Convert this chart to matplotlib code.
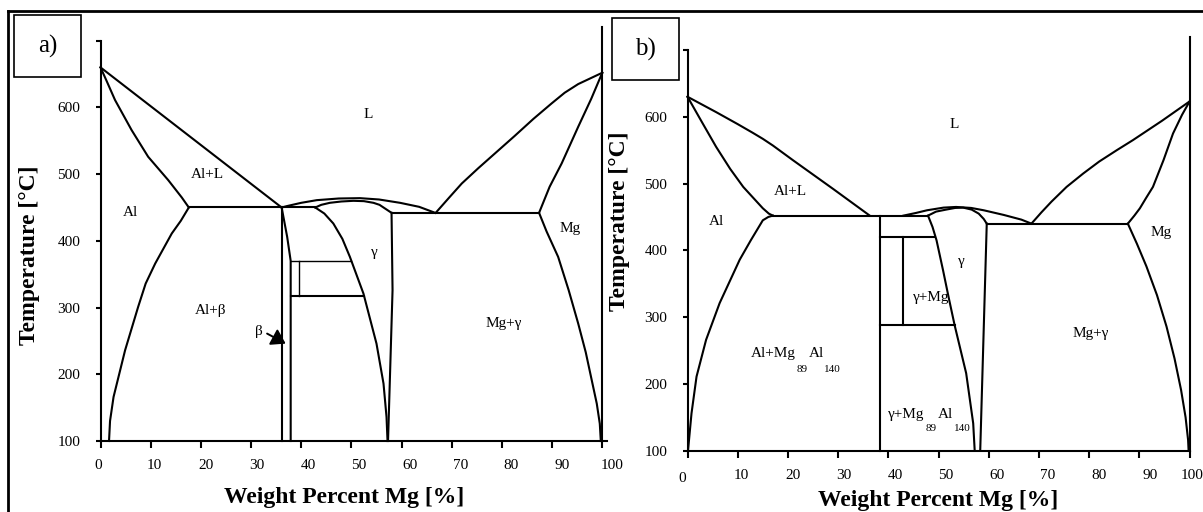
import matplotlib
matplotlib.use('Agg')
import matplotlib.pyplot as plt
from matplotlib.lines import Line2D
from matplotlib.patches import Rectangle
from matplotlib.transforms import ScaledTranslation

plt.rcParams['font.family'] = ['Liberation Serif', 'DejaVu Serif']

# ---- panel a) phase boundaries (wt% Mg, temperature in C) ----
a_liq_al_x = [0, 36.1]
a_liq_al_t = [660, 450]
a_sol_al_x = [0, 1.2, 2.9, 6.2, 9.5, 13.5, 16.2, 17.6]
a_sol_al_t = [660, 640, 611, 566, 526, 491, 465, 450]
a_solv_al_x = [17.6, 16.0, 14.2, 10.9, 9.0, 7.5, 4.9, 2.6, 1.9, 1.7]
a_solv_al_t = [450, 430, 411, 366, 336, 301, 236, 166, 130, 100]
a_eut_al_x = [17.6, 42.8]
a_eut_al_t = [450, 450]
a_beta_x = [36.1, 36.1]
a_beta_t = [450, 100]
a_beta_r_x = [36.1, 36.6, 37.2, 37.9, 37.9]
a_beta_r_t = [450, 430, 406, 370, 100]
a_tie1_x = [37.9, 50.0]
a_tie1_t = [370, 370]
a_tie2_x = [39.6, 39.6]
a_tie2_t = [370, 318]
a_tie3_x = [37.9, 52.5]
a_tie3_t = [318, 318]
a_gam_l_x = [42.8, 44.6, 46.4, 48.2, 49.7, 52.4, 55.0, 56.4, 57.0, 57.2]
a_gam_l_t = [450, 441, 426, 403, 376, 321, 246, 186, 136, 100]
a_gam_r_x = [58.0, 58.2, 57.3]
a_gam_r_t = [442, 326, 100]
a_liq_top_x = [36.1, 37.1, 40.0, 43.1, 47.5, 51.7, 55.5, 59.7, 63.5, 66.7]
a_liq_top_t = [450, 452, 457, 461, 463.5, 464, 462, 457, 451, 442]
a_sol_top_x = [42.8, 44.0, 45.7, 48.0, 50.4, 52.5, 54.4, 55.6, 56.4, 58.0]
a_sol_top_t = [450, 454, 457, 459, 460, 459.5, 457, 454, 450, 442]
a_eut_mg_x = [58.0, 87.4]
a_eut_mg_t = [442, 442]
a_liq_mg_x = [66.8, 69.5, 72.0, 75.3, 78.6, 82.5, 86.3, 89.9, 92.5, 95.2, 100]
a_liq_mg_t = [442, 465, 486, 509, 531, 557, 583, 606, 622, 635, 652]
a_sol_mg_x = [87.4, 89.5, 91.9, 95.2, 97.8, 100]
a_sol_mg_t = [442, 481, 516, 571, 613, 652]
a_solv_mg_x = [87.4, 88.9, 91.2, 93.3, 95.2, 96.7, 97.9, 98.9, 99.5, 99.7]
a_solv_mg_t = [442, 414, 376, 326, 276, 233, 191, 156, 126, 100]

# ---- panel b) phase boundaries ----
b_liq_al_x = [0, 5.7, 10.0, 13.0, 15.0, 17.0, 21.0, 29.0, 36.3]
b_liq_al_t = [630, 607, 589, 576, 567, 557, 535, 492, 452]
b_sol_al_x = [0, 2.8, 5.7, 8.5, 11.1, 15.0, 16.2, 17.0]
b_sol_al_t = [630, 593, 555, 522, 495, 463, 455, 452]
b_solv_al_x = [17.0, 16.1, 15.0, 12.6, 10.4, 6.4, 3.7, 1.8, 0.8, 0.1]
b_solv_al_t = [452, 450, 445, 415, 386, 321, 266, 211, 156, 100]
b_eut_al_x = [17.0, 47.9]
b_eut_al_t = [452, 452]
b_comp_x = [38.3, 38.3]
b_comp_t = [452, 100]
b_tie1_x = [38.3, 49.0]
b_tie1_t = [420, 420]
b_tie2_x = [43.0, 43.0]
b_tie2_t = [420, 288]
b_tie3_x = [38.3, 53.2]
b_tie3_t = [288, 288]
b_gam_l_x = [47.9, 48.8, 49.6, 50.9, 52.0, 53.2, 55.5, 56.9, 57.2]
b_gam_l_t = [452, 435, 415, 370, 330, 288, 216, 141, 100]
b_gam_r_x = [59.6, 58.3]
b_gam_r_t = [440, 100]
b_liq_top_x = [43.0, 45.5, 47.7, 51.0, 53.5, 56.5, 59.0, 63.0, 66.5, 68.5]
b_liq_top_t = [452, 456, 460, 464, 465, 463.5, 460, 453, 446, 440]
b_sol_top_x = [47.9, 49.5, 51.5, 53.3, 54.9, 56.6, 58.0, 59.0, 59.6]
b_sol_top_t = [452, 458, 461, 463.5, 464, 461, 455, 447, 440]
b_eut_mg_x = [59.6, 87.7]
b_eut_mg_t = [440, 440]
b_liq_mg_x = [68.5, 70.5, 72.5, 75.5, 78.8, 82.0, 85.5, 88.7, 94.5, 100]
b_liq_mg_t = [440, 457, 473, 495, 515, 533, 550, 565, 594, 623]
b_sol_mg_x = [87.7, 89.0, 90.1, 91.3, 92.7, 94.8, 96.7, 98.5, 100]
b_sol_mg_t = [440, 452, 463, 478, 495, 535, 575, 603, 623]
b_solv_mg_x = [87.7, 89.5, 91.4, 93.5, 95.4, 97.0, 98.3, 99.2, 99.7, 99.8]
b_solv_mg_t = [440, 410, 376, 333, 286, 238, 191, 150, 116, 100]

# pure Mg edge line (goes above the axis top)
edge_x = [100, 100]
edge_t = [100, 720]

# region labels
a_labels = [('L', 53.4, 589), ('Al+L', 21.4, 499), ('Al', 5.9, 442),
            ('Al+\u03b2', 22.0, 296), ('\u03b3', 54.6, 383),
            ('Mg', 93.6, 418), ('Mg+\u03b3', 80.4, 276)]
b_labels = [('L', 53.2, 589), ('Al+L', 20.4, 488), ('Al', 5.7, 443),
            ('\u03b3', 54.5, 383), ('Mg', 94.4, 426), ('Mg+\u03b3', 80.4, 276),
            ('\u03b3+Mg', 48.5, 330)]
# formula labels drawn as in the original: main text plus low subscripts
b_formula = [('Al+Mg', 17.0, 245, 11), ('Al', 25.6, 245, 11),
             ('89', 22.8, 221, 8), ('140', 28.8, 221, 8),
             ('\u03b3+Mg', 43.6, 154, 11), ('Al', 51.3, 154, 11),
             ('89', 48.6, 133, 8), ('140', 54.7, 133, 8)]

xticks = [0, 10, 20, 30, 40, 50, 60, 70, 80, 90, 100]
yticks = [100, 200, 300, 400, 500, 600, 700]
ylabels = ['100', '200', '300', '400', '500', '600', '']
# small sideways shift of the x tick labels seen in the original (pixels)
a_xlab_dx = [-2, 4, 5, 6, 7, 7, 8, 9, 9, 10, 10]
b_xlab_dx = [-5, 4, 5, 6, 7, 7, 8, 9, 10, 11, 3]

W, H = 1203, 512


def fx(px):
    return px / W


def fy(py):
    return 1 - py / H


fig = plt.figure(figsize=(12.03, 5.12), dpi=100)
ax_a = fig.add_axes([fx(100.5), fy(441), 101 * 5.018 / W, (441 - 40.7) / H])
ax_b = fig.add_axes([fx(687.5), fy(450.7), 100 * 5.021 / W, (450.7 - 50) / H])


def style(ax, xmax, dxs):
    ax.set_xlim(0, xmax)
    ax.set_ylim(100, 700)
    ax.patch.set_visible(False)
    for s in ['top', 'right']:
        ax.spines[s].set_visible(False)
    for s in ['left', 'bottom']:
        ax.spines[s].set_linewidth(1.5)
    ax.set_xticks(xticks)
    ax.set_xticklabels([str(v) for v in xticks])
    ax.set_yticks(yticks)
    ax.set_yticklabels(ylabels)
    ax.tick_params(axis='x', direction='out', length=5, width=1.5, pad=8, labelsize=11)
    ax.tick_params(axis='y', direction='out', length=3.6, width=1.5, pad=11, labelsize=11)
    for lbl, dx in zip(ax.get_xticklabels(), dxs):
        lbl.set_transform(lbl.get_transform() + ScaledTranslation(dx / 100, 0, fig.dpi_scale_trans))


def draw(ax, x, t, lw=1.5):
    ax.plot(x, t, color='k', lw=lw, clip_on=False, solid_joinstyle='round')


style(ax_a, 101, a_xlab_dx)
style(ax_b, 100, b_xlab_dx)
# the "0" under panel b sits a little lower
lbl0 = ax_b.get_xticklabels()[0]
lbl0.set_transform(lbl0.get_transform() + ScaledTranslation(0, -3 / 100, fig.dpi_scale_trans))

for x, t in [(a_liq_al_x, a_liq_al_t), (a_sol_al_x, a_sol_al_t), (a_solv_al_x, a_solv_al_t),
             (a_eut_al_x, a_eut_al_t), (a_beta_x, a_beta_t), (a_beta_r_x, a_beta_r_t),
             (a_tie3_x, a_tie3_t), (a_gam_l_x, a_gam_l_t), (a_gam_r_x, a_gam_r_t),
             (a_liq_top_x, a_liq_top_t), (a_sol_top_x, a_sol_top_t), (a_eut_mg_x, a_eut_mg_t),
             (a_liq_mg_x, a_liq_mg_t), (a_sol_mg_x, a_sol_mg_t), (a_solv_mg_x, a_solv_mg_t),
             (edge_x, edge_t)]:
    draw(ax_a, x, t)
draw(ax_a, a_tie1_x, a_tie1_t, lw=1.0)
draw(ax_a, a_tie2_x, a_tie2_t, lw=1.0)

for x, t in [(b_liq_al_x, b_liq_al_t), (b_sol_al_x, b_sol_al_t), (b_solv_al_x, b_solv_al_t),
             (b_eut_al_x, b_eut_al_t), (b_comp_x, b_comp_t), (b_tie1_x, b_tie1_t),
             (b_tie2_x, b_tie2_t), (b_tie3_x, b_tie3_t), (b_gam_l_x, b_gam_l_t),
             (b_gam_r_x, b_gam_r_t), (b_liq_top_x, b_liq_top_t), (b_sol_top_x, b_sol_top_t),
             (b_eut_mg_x, b_eut_mg_t), (b_liq_mg_x, b_liq_mg_t), (b_sol_mg_x, b_sol_mg_t),
             (b_solv_mg_x, b_solv_mg_t), (edge_x, edge_t)]:
    draw(ax_b, x, t)

for s, x, t in a_labels:
    ax_a.text(x, t, s, ha='center', va='center', fontsize=11)
for s, x, t in b_labels:
    ax_b.text(x, t, s, ha='center', va='center', fontsize=11)
for s, x, t, fs in b_formula:
    ax_b.text(x, t, s, ha='center', va='center', fontsize=fs)

# beta arrow in panel a
ax_a.text(31.6, 264, '\u03b2', ha='center', va='center', fontsize=11)
ax_a.annotate('', xy=(36.9, 246), xytext=(33.2, 261),
              arrowprops=dict(arrowstyle='-|>,head_length=0.7,head_width=0.45',
                              color='k', lw=1.4, mutation_scale=12, shrinkA=0, shrinkB=0))

# axis titles
fig.text(fx(29.3), fy(255), 'Temperature [\u00b0C]', rotation=90, ha='center', va='center',
         fontsize=17, fontweight='bold')
fig.text(fx(619.7), fy(221), 'Temperature [\u00b0C]', rotation=90, ha='center', va='center',
         fontsize=17, fontweight='bold')
fig.text(fx(344), fy(502.6), 'Weight Percent Mg [%]', ha='center', va='baseline',
         fontsize=17, fontweight='bold')
fig.text(fx(938), fy(505.6), 'Weight Percent Mg [%]', ha='center', va='baseline',
         fontsize=17, fontweight='bold')

# outer frame (top and left edges)
fig.add_artist(Line2D([fx(8), 1], [fy(10.7), fy(10.7)], color='k', lw=2))
fig.add_artist(Line2D([fx(8), fx(8)], [fy(10.7), 0], color='k', lw=2))

# panel tags
for tag, x0, x1, y0, y1 in [('a)', 14, 81, 15, 77), ('b)', 611.7, 678.7, 18.3, 80)]:
    fig.add_artist(Rectangle((fx(x0), fy(y1)), (x1 - x0) / W, (y1 - y0) / H,
                             transform=fig.transFigure, fill=False, ec='k', lw=1.2))
    fig.text(fx((x0 + x1) / 2), fy((y0 + y1) / 2), tag, ha='center', va='center', fontsize=18)

fig.savefig('out.png', dpi=100)
